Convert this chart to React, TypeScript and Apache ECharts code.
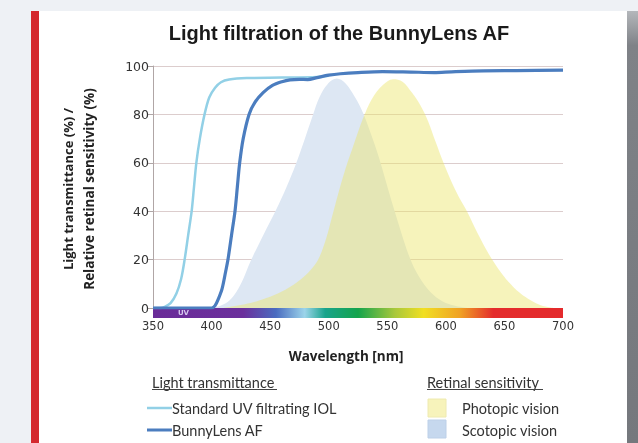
import React, { useEffect, useRef } from "react";
import * as echarts from "echarts";

const chartTitle = "Light filtration of the BunnyLens AF";
const xAxisTitle = "Wavelength [nm]";
const yAxisTitleLines = ["Light transmittance (%) /", "Relative retinal sensitivity (%)"];
const xMin = 350;
const xMax = 700;
const xStep = 50;
const yMin = 0;
const yMax = 100;
const yStep = 20;

const seriesNames = ["Standard UV filtrating IOL", "BunnyLens AF", "Photopic vision", "Scotopic vision"];
const legendHeaders = ["Light transmittance", "Retinal sensitivity"];

const standardIOL: number[][] = [
  [350, 0], [356, 0], [360, 0.5], [365, 2], [370, 6], [374, 12], [377, 20], [380, 30],
  [383, 40], [385, 50], [387, 60], [390, 70], [394, 80], [398, 87], [403, 91], [408, 93.3],
  [415, 94.4], [430, 95], [460, 95.2], [490, 95.5], [500, 96],
];

const bunnyLens: number[][] = [
  [350, 0], [400, 0], [403, 1], [406, 4], [409, 8], [412, 15], [414, 20], [417, 30],
  [420, 40], [422, 50], [424, 60], [427, 70], [432, 80], [437, 85], [444, 89], [452, 92],
  [460, 93.5], [467, 94.3], [475, 94.5], [482, 94.4], [490, 95.2], [500, 96.2], [510, 96.8],
  [525, 97.3], [546, 97.7], [570, 97.5], [590, 97.3], [605, 97.6], [632, 98], [660, 98.1], [700, 98.3],
];

const photopic: number[][] = [
  [410, 0], [420, 0.8], [430, 1.8], [440, 3], [450, 4.6], [460, 6.8], [470, 9.6], [479, 13],
  [486, 16.5], [492, 21], [498, 29], [503, 38], [508, 47], [514, 57], [521, 67], [529, 78],
  [537, 86.5], [546, 92], [555, 94.5], [563, 93.5], [571, 89], [578, 84], [585, 77], [591, 69],
  [598, 60], [605, 52], [611, 46], [618, 40], [627, 31], [637, 22], [648, 14], [658, 8.5],
  [668, 4.5], [677, 2], [685, 0.6], [692, 0],
];

const scotopic: number[][] = [
  [400, 0], [408, 1], [415, 3], [421, 6.5], [427, 12], [433, 19], [444, 30], [455, 40.5],
  [464, 50], [472, 59.5], [479, 69], [486, 79], [492, 87], [499, 92.5], [507, 94.8], [514, 93],
  [520, 89], [528, 82], [536, 72], [543, 62], [549, 52], [555, 42], [562, 31], [569, 21],
  [577, 13], [587, 6.5], [597, 2.8], [607, 1], [618, 0],
];

const spectrumRange: number[][] = [[xMin, xMax]];
const spectrumStops: [number, string][] = [
  [0, "#6a2c98"], [0.22, "#6b2f9c"], [0.3, "#4a6cc0"], [0.37, "#9cd4ea"], [0.42, "#18a48c"],
  [0.5, "#14a44c"], [0.59, "#a9c83c"], [0.66, "#f1df22"], [0.75, "#f0a024"], [0.83, "#e42c2c"], [1, "#e42a2c"],
];
const uvLabelAt = 376;

export default function App() {
  const ref = useRef<HTMLDivElement>(null);

  useEffect(() => {
    if (!ref.current) return;
    const chart = echarts.init(ref.current, null, { renderer: "svg" });
    const calibri = "Lato, 'Open Sans', sans-serif";
    const boldFont = "'Open Sans', Lato, sans-serif";

    const lineText = (text: string, x: number, y: number, extra: any = {}) => ({
      type: "text",
      x,
      y,
      z: 10,
      style: {
        text,
        fill: "#333",
        font: `14.5px ${calibri}`,
        textAlign: "left",
        textVerticalAlign: "middle",
        align: "left",
        verticalAlign: "middle",
        ...extra,
      },
    });

    chart.setOption({
      animation: false,
      backgroundColor: "transparent",
      title: {
        text: chartTitle,
        left: 334,
        top: 18,
        textAlign: "center",
        textStyle: { fontFamily: "'Liberation Sans', Arial, sans-serif", fontWeight: "bold", fontSize: 20, color: "#1a1a1a" },
      },
      grid: { left: 153, right: 75, top: 66, bottom: 135 },
      xAxis: {
        type: "value",
        min: xMin,
        max: xMax,
        interval: xStep,
        axisLine: { show: false },
        axisTick: { show: false },
        splitLine: { show: false },
        axisLabel: { margin: 12, fontSize: 11.5, color: "#333", fontFamily: "'DejaVu Sans', Verdana, sans-serif" },
      },
      yAxis: {
        type: "value",
        min: yMin,
        max: yMax,
        interval: yStep,
        axisLine: { show: true, lineStyle: { color: "#b0a6a6" } },
        axisTick: { show: true, length: 5, lineStyle: { color: "#b0a6a6" } },
        splitLine: { show: true, lineStyle: { color: "#dccdcd" } },
        axisLabel: { margin: 4, fontSize: 12.5, color: "#333", fontFamily: "'DejaVu Sans', Verdana, sans-serif" },
      },
      graphic: [
        { type: "rect", z: -100, silent: true, shape: { x: 0, y: 0, width: 638, height: 443 }, style: { fill: "#eef1f5" } },
        { type: "rect", z: -99, silent: true, shape: { x: 39, y: 11, width: 588, height: 432 }, style: { fill: "#ffffff" } },
        { type: "rect", z: -99, silent: true, shape: { x: 31, y: 11, width: 8, height: 432 }, style: { fill: "#d4282e" } },
        {
          type: "rect", z: -99, silent: true, shape: { x: 627, y: 11, width: 11, height: 432 },
          style: { fill: new echarts.graphic.LinearGradient(0, 0, 0, 1, [{ offset: 0, color: "#b4b7bb" }, { offset: 0.08, color: "#7f8287" }, { offset: 1, color: "#75787d" }]) },
        },
        {
          type: "text", x: 68, y: 189, rotation: Math.PI / 2, z: 10,
          style: { text: yAxisTitleLines[0], fill: "#222", font: `bold 13px ${boldFont}`, textAlign: "center", textVerticalAlign: "middle", align: "center", verticalAlign: "middle" },
        },
        {
          type: "text", x: 89, y: 189, rotation: Math.PI / 2, z: 10,
          style: { text: yAxisTitleLines[1], fill: "#222", font: `bold 13.5px ${boldFont}`, textAlign: "center", textVerticalAlign: "middle", align: "center", verticalAlign: "middle" },
        },
        {
          type: "text", x: 346, y: 356, z: 10,
          style: { text: xAxisTitle, fill: "#222", font: `bold 13.5px ${boldFont}`, textAlign: "center", textVerticalAlign: "middle", align: "center", verticalAlign: "middle" },
        },
        lineText(legendHeaders[0], 152, 382),
        { type: "line", z: 10, shape: { x1: 152, y1: 389.5, x2: 277, y2: 389.5 }, style: { stroke: "#444", lineWidth: 1 } },
        lineText(legendHeaders[1], 427, 382),
        { type: "line", z: 10, shape: { x1: 427, y1: 389.5, x2: 543, y2: 389.5 }, style: { stroke: "#444", lineWidth: 1 } },
        { type: "line", z: 10, shape: { x1: 147, y1: 408, x2: 172, y2: 408 }, style: { stroke: "#92d0e6", lineWidth: 2.5 } },
        lineText(seriesNames[0], 172, 408),
        { type: "line", z: 10, shape: { x1: 147, y1: 430, x2: 172, y2: 430 }, style: { stroke: "#4b7dbf", lineWidth: 3 } },
        lineText(seriesNames[1], 172, 430),
        { type: "rect", z: 10, shape: { x: 428, y: 399, width: 18, height: 18 }, style: { fill: "#f7f3bb", stroke: "#eeeab0", lineWidth: 1 } },
        lineText(seriesNames[2], 462, 408),
        { type: "rect", z: 10, shape: { x: 428, y: 420, width: 18, height: 18 }, style: { fill: "#c6d8ee", stroke: "#bdd0e8", lineWidth: 1 } },
        lineText(seriesNames[3], 462, 430),
      ],
      series: [
        {
          name: seriesNames[3],
          type: "line",
          data: scotopic,
          smooth: 0.35,
          showSymbol: false,
          z: 1,
          lineStyle: { width: 0, opacity: 0 },
          areaStyle: { color: "#dde7f3", opacity: 1 },
        },
        {
          name: seriesNames[2],
          type: "line",
          data: photopic,
          smooth: 0.35,
          showSymbol: false,
          z: 1,
          lineStyle: { width: 0, opacity: 0 },
          areaStyle: { color: "rgb(236,230,110)", opacity: 0.47 },
        },
        {
          name: "spectrum",
          type: "custom",
          data: spectrumRange,
          encode: { x: [0, 1] },
          silent: true,
          clip: false,
          z: 3,
          renderItem: (params: any, api: any) => {
            const a = api.coord([api.value(0), 0]);
            const b = api.coord([api.value(1), 0]);
            const u = api.coord([uvLabelAt, 0]);
            return {
              type: "group",
              children: [
                {
                  type: "rect",
                  shape: { x: a[0], y: a[1], width: b[0] - a[0], height: 10 },
                  style: {
                    fill: {
                      type: "linear", x: 0, y: 0, x2: 1, y2: 0,
                      colorStops: spectrumStops.map(([offset, color]) => ({ offset, color })),
                    },
                  },
                },
                {
                  type: "text",
                  x: u[0],
                  y: a[1] + 5,
                  style: {
                    text: "UV",
                    fill: "#d6c8ee",
                    font: "bold 7px 'DejaVu Sans', sans-serif",
                    align: "center",
                    verticalAlign: "middle",
                    textAlign: "center",
                    textVerticalAlign: "middle",
                  },
                },
              ],
            };
          },
        },
        {
          name: seriesNames[0],
          type: "line",
          data: standardIOL,
          smooth: 0.3,
          showSymbol: false,
          z: 4,
          lineStyle: { color: "#92d0e6", width: 2.5 },
        },
        {
          name: seriesNames[1],
          type: "line",
          data: bunnyLens,
          smooth: 0.3,
          showSymbol: false,
          z: 5,
          lineStyle: { color: "#4b7dbf", width: 3.2 },
        },
      ],
    });

    return () => chart.dispose();
  }, []);

  return (
    <div
      ref={ref}
      style={{ position: "fixed", left: 0, top: 0, width: 638, height: 443 }}
    />
  );
}
